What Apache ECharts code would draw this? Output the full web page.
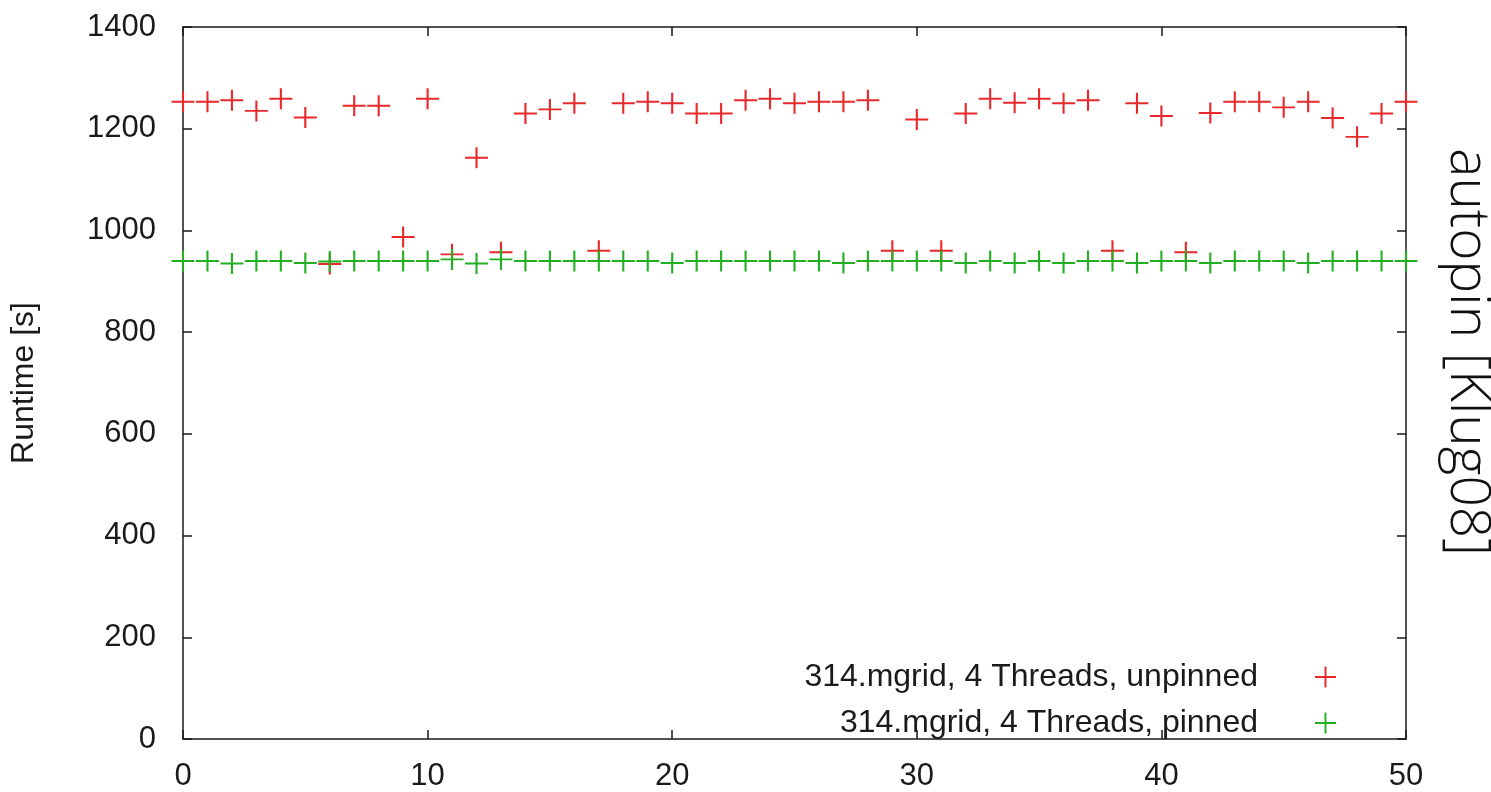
<!DOCTYPE html>
<html>
<head>
<meta charset="utf-8">
<script src="https://cdn.jsdelivr.net/npm/echarts@6/dist/echarts.min.js"></script>
<style>
html,body{margin:0;padding:0;background:#fff;}
#chart{width:1491px;height:792px;}
</style>
</head>
<body>
<div id="chart"></div>
<script>
// Run index 0..50
const runs = Array.from({length: 51}, (_, i) => i);
const unpinned = [1253,1253,1256,1235,1259,1222,934,1245,1245,987,
                  1259,953,1143,957,1230,1238,1250,960,1250,1253,
                  1250,1230,1230,1256,1259,1250,1253,1253,1256,960,
                  1218,960,1230,1259,1251,1259,1250,1256,960,1250,
                  1225,957,1231,1253,1253,1242,1253,1221,1184,1230,
                  1253];
const pinned = [940,940,935,940,940,936,939,940,940,940,
                940,943,935,943,940,940,940,940,940,940,
                936,940,940,940,940,940,940,936,940,940,
                940,940,936,940,936,940,936,940,940,936,
                940,940,936,940,940,940,936,940,940,940,
                940];
const seriesNames = ['314.mgrid, 4 Threads, unpinned', '314.mgrid, 4 Threads, pinned'];
const xTicks = [0, 10, 20, 30, 40, 50];
const yTicks = [0, 200, 400, 600, 800, 1000, 1200, 1400];

const FONT = '"Liberation Sans", Arial, Helvetica, sans-serif';
const PLUS = 'path://M-1,-11L1,-11L1,-1L11,-1L11,1L1,1L1,11L-1,11L-1,1L-11,1L-11,-1L-1,-1Z';
const RED = '#e8282a';
const GREEN = '#22b022';
const AXIS = '#1a1a1a';

const chart = echarts.init(document.getElementById('chart'), null, {renderer: 'canvas'});

function axLine() { return {show: true, onZero: false, lineStyle: {color: AXIS, width: 1.5}}; }
function axTick() { return {show: true, inside: true, length: 9, lineStyle: {color: AXIS, width: 1.5}}; }

const option = {
  backgroundColor: '#fff',
  animation: false,
  grid: {left: 183, right: 85, top: 27, bottom: 53, containLabel: false, outerBoundsMode: 'none'},
  xAxis: [
    {type: 'value', min: xTicks[0], max: xTicks[xTicks.length-1], interval: 10,
     position: 'bottom', axisLine: axLine(), axisTick: axTick(), splitLine: {show: false},
     axisLabel: {margin: 22, fontSize: 31, color: '#1a1a1a', fontFamily: FONT}},
    {type: 'value', min: xTicks[0], max: xTicks[xTicks.length-1], interval: 10,
     position: 'top', axisLine: axLine(), axisTick: axTick(), splitLine: {show: false},
     axisLabel: {show: false}}
  ],
  yAxis: [
    {type: 'value', min: yTicks[0], max: yTicks[yTicks.length-1], interval: 200,
     position: 'left', axisLine: axLine(), axisTick: axTick(), splitLine: {show: false},
     axisLabel: {margin: 27, fontSize: 31, color: '#1a1a1a', fontFamily: FONT,
                 formatter: v => String(v)},
     name: 'Runtime [s]', nameLocation: 'middle', nameRotate: 90, nameGap: 143,
     nameTextStyle: {fontSize: 32, color: '#1a1a1a', fontFamily: FONT}},
    {type: 'value', min: yTicks[0], max: yTicks[yTicks.length-1], interval: 200,
     position: 'right', axisLine: axLine(), axisTick: axTick(), splitLine: {show: false},
     axisLabel: {show: false}}
  ],
  legend: {
    orient: 'vertical', align: 'right', right: 150, top: 656,
    itemWidth: 23, itemHeight: 21, itemGap: 14,
    data: seriesNames.map(n => ({name: n, icon: PLUS})),
    textStyle: {fontSize: 32, color: '#1a1a1a', fontFamily: FONT, padding: [0, 51, 0, 0]}
  },
  series: [
    {name: seriesNames[0], type: 'scatter', clip: false, symbol: PLUS, symbolSize: [23, 21],
     xAxisIndex: 0, yAxisIndex: 0,
     itemStyle: {color: RED, opacity: 1},
     data: runs.map((r, i) => [r, unpinned[i]])},
    {name: seriesNames[1], type: 'scatter', clip: false, symbol: PLUS, symbolSize: [23, 21],
     xAxisIndex: 0, yAxisIndex: 0,
     itemStyle: {color: GREEN, opacity: 1},
     data: runs.map((r, i) => [r, pinned[i]])}
  ],
  graphic: [
    {type: 'text', x: 1467, y: 352, rotation: -Math.PI / 2,
     style: {text: 'autopin [Klug08]', font: '300 55px "Open Sans", "Noto Sans", sans-serif',
             fill: '#111', align: 'center', verticalAlign: 'middle'}}
  ]
};
chart.setOption(option);
</script>
</body>
</html>
